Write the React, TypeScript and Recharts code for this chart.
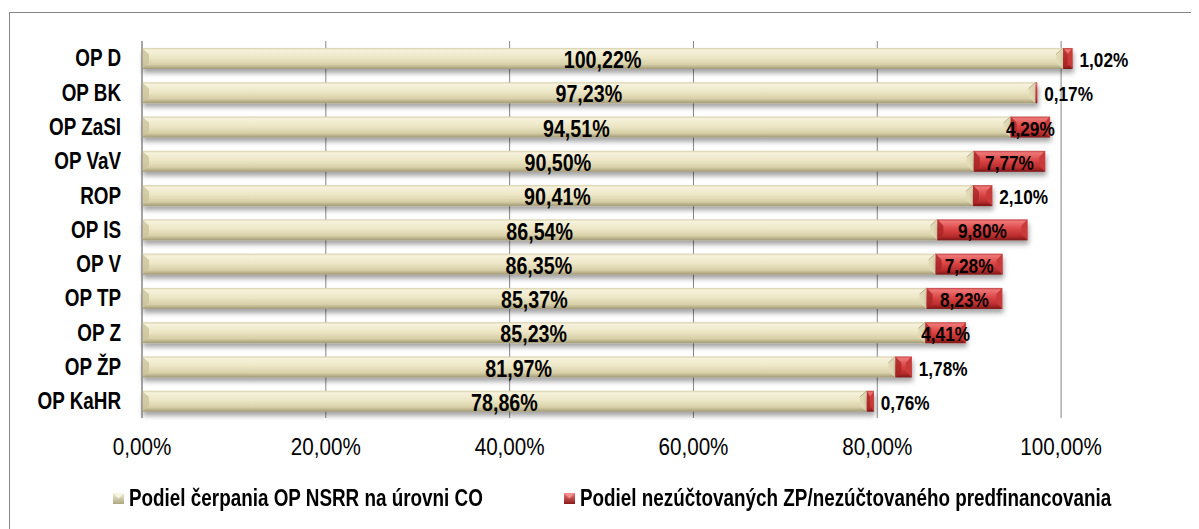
import React from 'react';
import { BarChart, Bar, XAxis, YAxis, ReferenceLine, Legend, LabelList } from 'recharts';

const categories = ['OP D', 'OP BK', 'OP ZaSI', 'OP VaV', 'ROP', 'OP IS', 'OP V', 'OP TP', 'OP Z', 'OP ŽP', 'OP KaHR'];
const drawnShare = [1.0022, 0.9723, 0.9451, 0.905, 0.9041, 0.8654, 0.8635, 0.8537, 0.8523, 0.8197, 0.7886];
const unsettledShare = [0.0102, 0.0017, 0.0429, 0.0777, 0.021, 0.098, 0.0728, 0.0823, 0.0441, 0.0178, 0.0076];
const xTicks = [0, 0.2, 0.4, 0.6, 0.8, 1.0];
const seriesNames = [
  'Podiel čerpania OP NSRR na úrovni CO',
  'Podiel nezúčtovaných ZP/nezúčtovaného predfinancovania',
];

const data = categories.map((c, i) => ({ name: c, drawn: drawnShare[i], unsettled: unsettledShare[i] }));

const FONT = "'Liberation Sans', Arial, sans-serif";
const NARROW = 0.82;
const GRID = '#868686';

const fmt = (v: number) => (v * 100).toFixed(2).replace('.', ',') + '%';

const NText = (p: {
  x: number;
  y: number;
  anchor: 'start' | 'middle' | 'end';
  size: number;
  bold?: boolean;
  dy?: string;
  sx?: number;
  children: React.ReactNode;
}) => (
  <text
    transform={`translate(${p.x},${p.y}) scale(${p.sx ?? NARROW},1)`}
    textAnchor={p.anchor}
    dy={p.dy}
    fontFamily={FONT}
    fontSize={p.size}
    fontWeight={p.bold ? 'bold' : 'normal'}
    fill="#000"
  >
    {p.children}
  </text>
);

const BeigeShape = (props: any) => {
  const { x, y, width, height } = props;
  if (!width || width <= 0) return null;
  const b = Math.min(7, width / 2);
  return (
    <g filter="url(#barShadow)">
      <rect x={x} y={y} width={width} height={height} fill="url(#beigeGrad)" />
      <polygon
        points={`${x},${y} ${x + b},${y + height * 0.3} ${x + b},${y + height * 0.7} ${x},${y + height}`}
        fill="#cbc39b"
        opacity={0.8}
      />
      <polygon
        points={`${x + width},${y} ${x + width},${y + height} ${x + width - b},${y + height * 0.7} ${x + width - b},${y + height * 0.3}`}
        fill="#e2dbb6"
      />
      <line x1={x + width - b} y1={y + height * 0.3} x2={x + width} y2={y} stroke="#b8b08a" strokeWidth={1} />
    </g>
  );
};

const RedShape = (props: any) => {
  const { x, y, width, height } = props;
  if (!width || width <= 0) return null;
  const b = Math.min(6, width / 2);
  return (
    <g filter="url(#barShadow)">
      <rect x={x} y={y} width={width} height={height} fill="url(#redGrad)" />
      <polygon
        points={`${x},${y} ${x + b},${y + height * 0.3} ${x + b},${y + height * 0.7} ${x},${y + height}`}
        fill="#a82626"
        opacity={0.8}
      />
      <polygon
        points={`${x + width},${y} ${x + width},${y + height} ${x + width - b},${y + height * 0.7} ${x + width - b},${y + height * 0.3}`}
        fill="#c93a3a"
      />
    </g>
  );
};

const centerLabel = (props: any) => {
  const { x, y, width, height, value } = props;
  return (
    <NText x={x + width / 2} y={y + height / 2 + 1} anchor="middle" size={24} bold dy="0.36em">
      {fmt(value)}
    </NText>
  );
};

const redLabel = (props: any) => {
  const { x, y, width, height, value } = props;
  const inside = value >= 0.03;
  return (
    <NText
      x={inside ? x + width / 2 : x + width + 7}
      y={y + height / 2 + 1}
      anchor={inside ? 'middle' : 'start'}
      size={21}
      bold
      dy="0.36em"
    >
      {fmt(value)}
    </NText>
  );
};

const YTick = (props: any) => {
  const { x, y, payload } = props;
  return (
    <NText x={x} y={y} anchor="end" size={23} bold dy="0.36em">
      {payload.value}
    </NText>
  );
};

const XTick = (props: any) => {
  const { x, y, payload } = props;
  return (
    <NText x={x} y={y} anchor="middle" size={24} sx={0.86} dy="0.71em">
      {fmt(payload.value)}
    </NText>
  );
};

const LegendIcon = ({ kind }: { kind: 'beige' | 'red' }) => (
  <svg width={11} height={11} style={{ display: 'block' }}>
    <defs>
      <linearGradient id={`lg-${kind}`} x1="0" y1="0" x2="0" y2="1">
        {kind === 'beige' ? (
          <>
            <stop offset="0%" stopColor="#f4f0d8" />
            <stop offset="100%" stopColor="#b0a780" />
          </>
        ) : (
          <>
            <stop offset="0%" stopColor="#ef7a7a" />
            <stop offset="100%" stopColor="#8a1a1a" />
          </>
        )}
      </linearGradient>
    </defs>
    <rect x={0} y={0} width={11} height={11} fill={`url(#lg-${kind})`} />
    <polygon points="0,0 11,0 5.5,5.5" fill={kind === 'beige' ? '#f8f5e4' : '#f29090'} />
  </svg>
);

const legendItemStarts = [105, 556];

const renderLegend = () => (
  <div style={{ position: 'relative', height: 28, fontFamily: FONT, fontWeight: 'bold', fontSize: 23, color: '#000' }}>
    {(['beige', 'red'] as const).map((k, i) => (
      <div
        key={k}
        style={{ position: 'absolute', left: legendItemStarts[i], top: 0, height: 28, display: 'flex', alignItems: 'center' }}
      >
        <LegendIcon kind={k} />
        <span
          style={{
            display: 'inline-block',
            marginLeft: 5,
            whiteSpace: 'nowrap',
            transform: `scaleX(${NARROW})`,
            transformOrigin: 'left center',
            lineHeight: '28px',
          }}
        >
          {seriesNames[i]}
        </span>
      </div>
    ))}
  </div>
);

export default function App() {
  return (
    <div style={{ position: 'relative', width: 1191, height: 521 }}>
      <div
        style={{
          position: 'absolute',
          left: 1,
          top: 4,
          width: 1200,
          height: 530,
          borderTop: `1px solid ${GRID}`,
          borderLeft: `1px solid ${GRID}`,
          boxSizing: 'border-box',
        }}
      />
      <div style={{ position: 'absolute', left: 0, top: 0 }}>
        <BarChart
          width={1191}
          height={521}
          data={data}
          layout="vertical"
          margin={{ top: 33, right: 46, bottom: 51, left: 0 }}
          barSize={21}
        >
          <defs>
            <linearGradient id="beigeGrad" x1="0" y1="0" x2="0" y2="1">
              <stop offset="0%" stopColor="#d6cfaa" />
              <stop offset="10%" stopColor="#f6f2dc" />
              <stop offset="45%" stopColor="#ede7c6" />
              <stop offset="78%" stopColor="#d8d0a8" />
              <stop offset="100%" stopColor="#a39a76" />
            </linearGradient>
            <linearGradient id="redGrad" x1="0" y1="0" x2="0" y2="1">
              <stop offset="0%" stopColor="#c24444" />
              <stop offset="10%" stopColor="#ee7676" />
              <stop offset="45%" stopColor="#dc4646" />
              <stop offset="80%" stopColor="#b82c2c" />
              <stop offset="100%" stopColor="#7a1616" />
            </linearGradient>
            <filter id="barShadow" filterUnits="userSpaceOnUse" x="0" y="0" width="1191" height="521">
              <feDropShadow dx="1" dy="4" stdDeviation="2.4" floodColor="#000" floodOpacity="0.36" />
            </filter>
          </defs>
          {xTicks.map((t) => (
            <ReferenceLine key={t} x={t} stroke={GRID} strokeWidth={1} zIndex={-100} />
          ))}
          <XAxis
            type="number"
            domain={[0, 1.1]}
            ticks={xTicks}
            axisLine={false}
            tickLine={false}
            tickSize={0}
            tickMargin={20}
            height={60}
            tick={XTick}
            interval={0}
          />
          <YAxis
            type="category"
            dataKey="name"
            width={134}
            axisLine={{ stroke: GRID }}
            tickLine={false}
            tickSize={0}
            tickMargin={21}
            interval={0}
            tick={YTick}
          />
          <Legend
            verticalAlign="middle"
            align="center"
            layout="horizontal"
            wrapperStyle={{ top: 476, left: 0, width: 1191 }}
            content={renderLegend}
          />
          <Bar
            dataKey="drawn"
            name={seriesNames[0]}
            stackId="a"
            fill="#e6dfb8"
            shape={BeigeShape}
            isAnimationActive={false}
          >
            <LabelList dataKey="drawn" content={centerLabel} />
          </Bar>
          <Bar
            dataKey="unsettled"
            name={seriesNames[1]}
            stackId="a"
            fill="#d03a3a"
            shape={RedShape}
            isAnimationActive={false}
          >
            <LabelList dataKey="unsettled" content={redLabel} />
          </Bar>
        </BarChart>
      </div>
    </div>
  );
}
